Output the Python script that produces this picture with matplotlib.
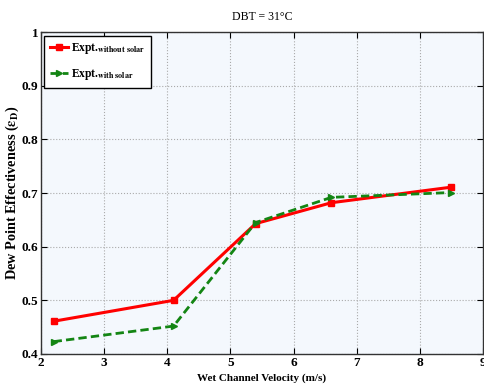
import matplotlib
matplotlib.use("Agg")
import matplotlib.pyplot as plt

velocity = [2.2, 4.1, 5.4, 6.6, 8.5]
eff_without_solar = [0.461, 0.500, 0.643, 0.682, 0.711]
eff_with_solar = [0.423, 0.452, 0.645, 0.692, 0.701]
x_ticks = [2, 3, 4, 5, 6, 7, 8, 9]
y_ticks = [0.4, 0.5, 0.6, 0.7, 0.8, 0.9, 1.0]
y_ticklabels = ["0.4", "0.5", "0.6", "0.7", "0.8", "0.9", "1"]

plt.rcParams['font.family'] = ['Liberation Serif', 'DejaVu Serif']
plt.rcParams['mathtext.fontset'] = 'stix'

fig = plt.figure(figsize=(4.84, 3.92), dpi=100)
ax = fig.add_axes([0.0847, 0.097, 0.913, 0.821])
ax.set_facecolor('#F4F8FD')

ax.plot(velocity, eff_without_solar, color='#FF0000', lw=2.2, marker='s', ms=4.5,
        label=r'Expt.$_{\mathbf{without\ solar}}$')
ax.plot(velocity, eff_with_solar, color='#138513', lw=2.0, ls=(0, (3, 1.5)), marker='>', ms=5,
        label=r'Expt.$_{\mathbf{with\ solar}}$')

ax.set_xlim(2, 9)
ax.set_ylim(0.4, 1.0)
ax.set_xticks(x_ticks)
ax.set_yticks(y_ticks)
ax.set_yticklabels(y_ticklabels)
ax.tick_params(direction='in', length=4, labelsize=9.5, pad=2, top=True, right=True)
for lab in ax.get_xticklabels() + ax.get_yticklabels():
    lab.set_fontweight('bold')
ax.grid(True, ls=':', color='#AAAAAA', lw=0.8)
for s in ax.spines.values():
    s.set_linewidth(1.0)
    s.set_color('#333333')

ax.set_title('DBT = 31\u00b0C', fontsize=8.5, pad=9)
ax.set_xlabel('Wet Channel Velocity (m/s)', fontsize=8, fontweight='bold', labelpad=3)
ax.set_ylabel(r'Dew Point Effectiveness ($\mathbf{\epsilon_D}$)', fontsize=10.3, fontweight='bold')
ax.yaxis.set_label_coords(-0.045, 0.5)

leg = ax.legend(loc='upper left', fontsize=8.3, frameon=True, fancybox=False,
                edgecolor='black', handlelength=1.5, handletextpad=0.3,
                borderaxespad=0.3, labelspacing=0.9, borderpad=0.5)
leg.get_frame().set_linewidth(1.0)
leg.get_frame().set_facecolor('white')
leg.get_frame().set_alpha(1)
for t in leg.get_texts():
    t.set_fontweight('bold')

fig.savefig('out.png', dpi=100)
